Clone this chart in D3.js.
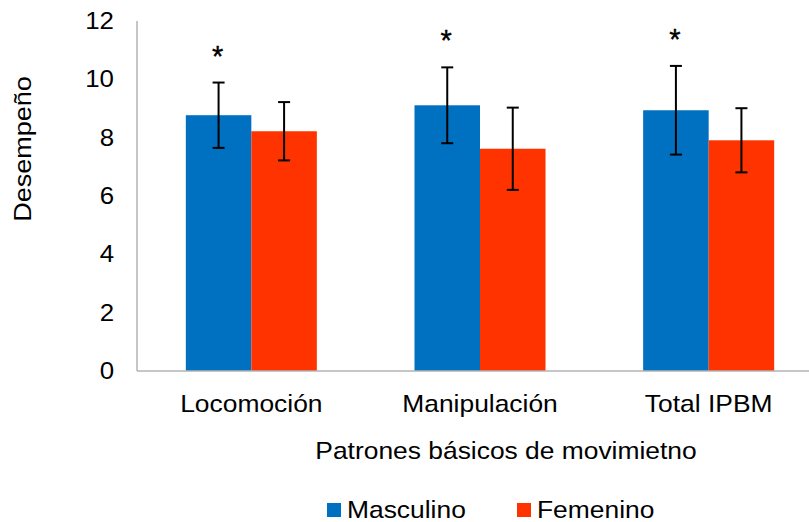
<!DOCTYPE html>
<html>
<head>
<meta charset="utf-8">
<script src="https://cdn.jsdelivr.net/npm/d3@7"></script>
<style>
  html, body { margin: 0; padding: 0; background: #fff; }
  svg { display: block; font-family: "Liberation Sans", Arial, sans-serif; }
</style>
</head>
<body>
<svg id="chart" width="809" height="522"></svg>
<script>
// Patrones básicos de movimiento: media y desviación por sexo
const categories = ["Locomoción", "Manipulación", "Total IPBM"];
const seriesNames = ["Masculino", "Femenino"];
const masculino = [8.77, 9.11, 8.94];
const femenino = [8.22, 7.62, 7.91];
const masculinoSD = [1.12, 1.30, 1.52];
const femeninoSD = [1.00, 1.41, 1.10];
const significant = [true, true, true];   // diferencias significativas (*)
const yTicks = [0, 2, 4, 6, 8, 10, 12];

const colors = ["#0070C0", "#FF3300"];
const FONT = 24;
const SX = 1.1;   // slightly wide lettering

const svg = d3.select("#chart");
const margin = { left: 137, right: -14, top: 21, bottom: 152 };
const W = 809, H = 522;

// move a text's x/y into a transform so it can be widened around its anchor
function widen(sel, k = SX) {
  sel.each(function() {
    const t = d3.select(this);
    const tx = +t.attr("x") || 0, ty = +t.attr("y") || 0;
    t.attr("x", 0).attr("y", 0)
     .attr("transform", `translate(${tx},${ty}) scale(${k},1)`);
  });
  return sel;
}

const x = d3.scaleBand()
  .domain(categories)
  .range([margin.left, W - margin.right])
  .paddingInner(0.427)
  .paddingOuter(0.2135);

const xs = d3.scaleBand()
  .domain(seriesNames)
  .range([0, x.bandwidth()]);

const y = d3.scaleLinear().domain([0, 12]).range([H - margin.bottom + 1, margin.top]);

// bars
const rows = categories.map((c, i) => [
  { cat: c, s: seriesNames[0], v: masculino[i], sd: masculinoSD[i], color: colors[0] },
  { cat: c, s: seriesNames[1], v: femenino[i], sd: femeninoSD[i], color: colors[1] }
]);

const g = svg.append("g");
const groups = g.selectAll("g.grp").data(rows).join("g")
  .attr("class", "grp")
  .attr("transform", (d, i) => `translate(${x(categories[i])},0)`);

groups.selectAll("rect").data(d => d).join("rect")
  .attr("x", d => xs(d.s))
  .attr("width", xs.bandwidth())
  .attr("y", d => y(d.v))
  .attr("height", d => y(0) - y(d.v))
  .attr("fill", d => d.color);

// error bars
const cap = 6;
groups.selectAll("g.err").data(d => d).join("g")
  .attr("class", "err")
  .each(function(d) {
    const cx = xs(d.s) + xs.bandwidth() / 2;
    const e = d3.select(this);
    const y1 = y(d.v + d.sd), y2 = y(d.v - d.sd);
    e.append("line").attr("x1", cx).attr("x2", cx).attr("y1", y1).attr("y2", y2);
    e.append("line").attr("x1", cx - cap).attr("x2", cx + cap).attr("y1", y1).attr("y2", y1);
    e.append("line").attr("x1", cx - cap).attr("x2", cx + cap).attr("y1", y2).attr("y2", y2);
  })
  .selectAll("line")
  .attr("stroke", "#000").attr("stroke-width", 2);

// significance marks above the masculino error bar
groups.filter((d, i) => significant[i])
  .append("text")
  .attr("x", d => xs(d[0].s) + xs.bandwidth() / 2 - 1)
  .attr("y", d => y(d[0].v + d[0].sd) - 17)
  .attr("text-anchor", "middle")
  .attr("font-size", 29)
  .attr("fill", "#000")
  .attr("stroke", "#000")
  .attr("stroke-width", 0.4)
  .text("*");

// axes lines
svg.append("line")
  .attr("x1", margin.left).attr("x2", margin.left)
  .attr("y1", y(12)).attr("y2", y(0))
  .attr("stroke", "#b3b3b3").attr("stroke-width", 1.5);
svg.append("line")
  .attr("x1", margin.left).attr("x2", W - margin.right)
  .attr("y1", y(0)).attr("y2", y(0))
  .attr("stroke", "#b3b3b3").attr("stroke-width", 1.5);

// y axis labels
const yAxis = d3.axisLeft(y).tickValues(yTicks).tickSize(0).tickPadding(23);
const ya = svg.append("g").attr("transform", `translate(${margin.left},0)`).call(yAxis);
ya.select(".domain").remove();
widen(ya.selectAll("text").attr("font-size", FONT - 0.5)
  .attr("font-family", "Liberation Sans, Arial, sans-serif").attr("fill", "#000"));

// x category labels
const xAxis = d3.axisBottom(x).tickSize(0).tickPadding(24);
const xa = svg.append("g").attr("transform", `translate(0,${y(0)})`).call(xAxis);
xa.select(".domain").remove();
widen(xa.selectAll("text").attr("font-size", FONT)
  .attr("font-family", "Liberation Sans, Arial, sans-serif").attr("fill", "#000"));

// axis titles
widen(svg.append("text")
  .attr("x", 506).attr("y", 459)
  .attr("text-anchor", "middle")
  .attr("font-size", FONT)
  .text("Patrones básicos de movimietno"));

svg.append("text")
  .attr("transform", "translate(31,149) rotate(-90) scale(1.15,1)")
  .attr("text-anchor", "middle")
  .attr("font-size", 23.5)
  .text("Desempeño");

// legend
const legend = svg.append("g");
const legendX = [327, 517];
seriesNames.forEach((s, i) => {
  const lg = legend.append("g").attr("transform", `translate(${legendX[i]},503)`);
  lg.append("rect").attr("width", 14).attr("height", 14).attr("fill", colors[i]);
  widen(lg.append("text").attr("x", 20).attr("y", 15).attr("font-size", FONT).text(s));
});
</script>
</body>
</html>
